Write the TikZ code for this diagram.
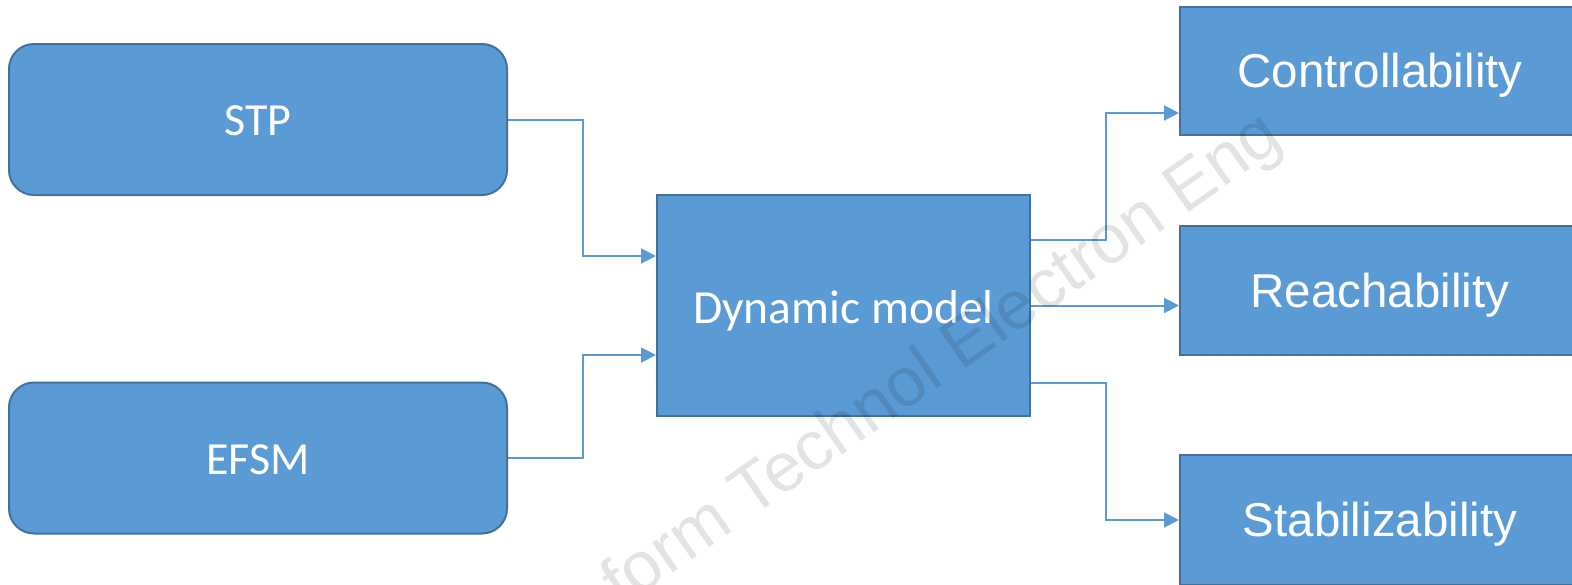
\documentclass[tikz,border=0pt]{standalone}
\usepackage{fontspec}
\setmainfont{Carlito}
\newfontfamily\arialfont{Liberation Sans}
\usetikzlibrary{arrows.meta}
\definecolor{boxfill}{HTML}{5B9BD5}
\definecolor{boxline}{HTML}{41719C}
\definecolor{linkcol}{HTML}{5B9BD5}
\tikzset{
  leftbox/.style={draw=boxline, line width=2pt, fill=boxfill, rounded corners=25pt,
    minimum width=498pt, minimum height=151pt, text=white,
    font=\fontsize{46}{50}\selectfont, text height=32pt, text depth=0pt},
  midbox/.style={draw=boxline, line width=2pt, fill=boxfill,
    minimum width=373pt, minimum height=221pt, text=white,
    font=\fontsize{47.5}{52}\selectfont, text height=35pt, text depth=0pt},
  rightbox/.style={draw=boxline, line width=2pt, fill=boxfill,
    minimum width=400pt, minimum height=128pt, text=white,
    font=\arialfont\fontsize{47.5}{52}\selectfont, text height=33pt, text depth=0pt},
  link/.style={draw=linkcol, line width=2pt,
    -{Triangle[length=15pt,width=15pt]}},
  watermark/.style={text=black, text opacity=0.11, rotate=35, anchor=base west,
    inner sep=0pt, font=\arialfont\fontsize{69}{74}\selectfont}
}
\begin{document}
\begin{tikzpicture}[x=1pt, y=-1pt]
  \useasboundingbox (0,0) rectangle (1572,584);
  \clip (0,0) rectangle (1572,584);
  \fill[white] (0,0) rectangle (1572,584);

  % inputs
  \node[leftbox] (stp)  at (258,119.5) {STP};
  \node[leftbox] (efsm) at (258,458) {EFSM};

  % central model
  \node[midbox] (dyn) at (843.5,305.5) {Dynamic model};

  % properties
  \node[rightbox] (ctrl)  at (1380,71) {Controllability};
  \node[rightbox, minimum height=129pt] (reach) at (1380,290.5) {Reachability};
  \node[rightbox, minimum height=130pt] (stab)  at (1380,520) {Stabilizability};

  % connectors into the model
  \draw[link] (stp.east) -- ++(75,0) |- ([yshift=49.5pt]dyn.west);
  \draw[link] (efsm.east) -- ++(75,0) |- ([yshift=-49.5pt]dyn.west);

  % connectors out of the model
  \draw[link] ([yshift=65.5pt]dyn.east) -- ++(75,0) |- ([yshift=-42pt]ctrl.west);
  \draw[link] (dyn.east) -- (dyn.east -| reach.west);
  \draw[link] ([yshift=-77.5pt]dyn.east) -- ++(75,0) |- (stab.west);

  % overlaid journal mark
  \node[watermark] (wm) at (622,609) {form Technol Electron Eng};
\end{tikzpicture}
\end{document}
